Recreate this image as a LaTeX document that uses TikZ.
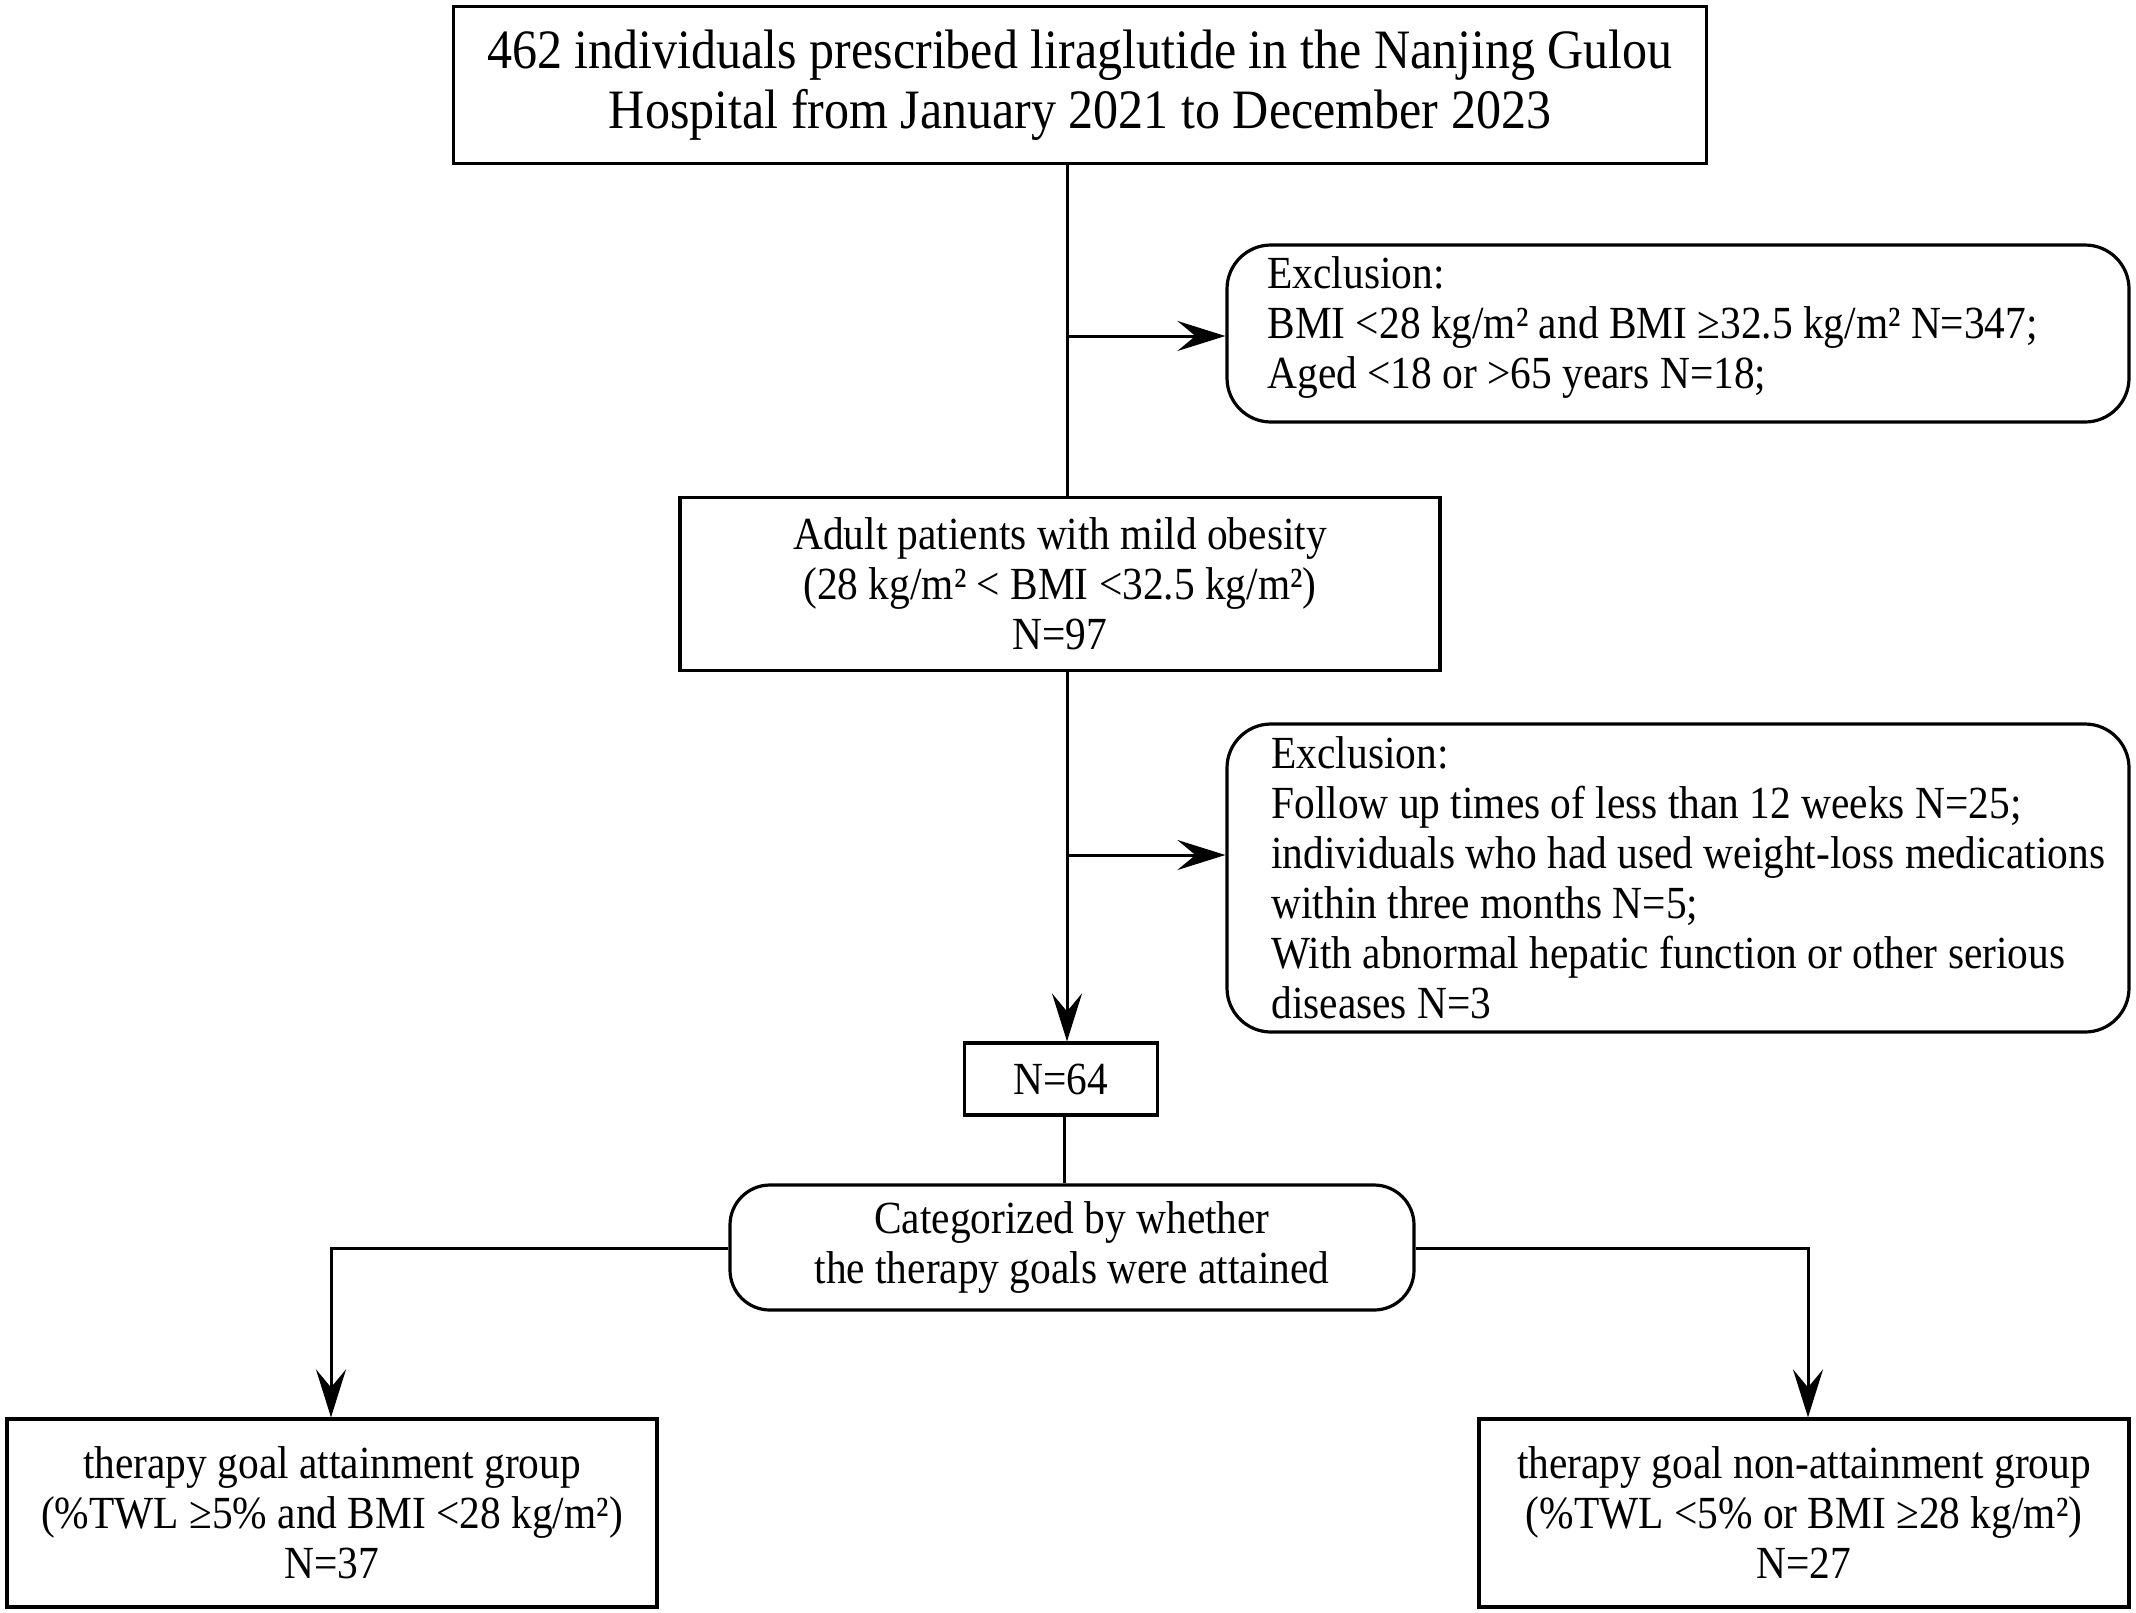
\documentclass[tikz,border=0pt]{standalone}
\usepackage{fontspec}
\setmainfont{Liberation Serif}[FakeStretch=0.9]
\usetikzlibrary{arrows.meta,calc}
\begin{document}
\begin{tikzpicture}[x=0.5pt,y=-0.5pt,
  box/.style={draw,line width=1.6pt,align=center,inner sep=0pt,font=\fontsize{23}{25}\selectfont},
  rbox/.style={box,rounded corners=22pt},
  txt/.style={align=left,inner sep=0pt,anchor=west,font=\fontsize{23}{25}\selectfont},
  conn/.style={line width=1.5pt},
  arr/.style={conn,-{Stealth[length=24pt,width=15pt,inset=9pt]}}]
\useasboundingbox (0,0) rectangle (2136,1612);
\node[box,minimum width=626.5pt,minimum height=78.5pt,font=\fontsize{27.8}{30}\selectfont] (top) at (1080,85)
  {462 individuals prescribed liraglutide in the Nanjing Gulou\\Hospital from January 2021 to December 2023};
\node[rbox,minimum width=451pt,minimum height=88.5pt] (exc1) at (1678,333.5) {};
\node[txt] (exc1t) at (1267,327) {Exclusion:\\BMI <28 kg/m² and BMI ≥32.5 kg/m² N=347;\\Aged <18 or >65 years N=18;};
\node[box,minimum width=380pt,minimum height=86.5pt] (mild) at (1060,584)
  {Adult patients with mild obesity\\(28 kg/m² < BMI <32.5 kg/m²)\\N=97};
\node[rbox,minimum width=451pt,minimum height=154pt] (exc2) at (1678,878) {};
\node[txt] (exc2t) at (1271,878) {Exclusion:\\Follow up times of less than 12 weeks N=25;\\individuals who had used weight-loss medications\\within three months N=5;\\With abnormal hepatic function or other serious\\diseases N=3};
\node[box,minimum width=96.5pt,minimum height=36pt] (n64) at (1061,1079) {N=64};
\node[rbox,rounded corners=20pt,minimum width=342pt,minimum height=62.5pt] (cat) at (1072,1247.5)
  {Categorized by whether\\the therapy goals were attained};
\node[box,minimum width=325pt,minimum height=94pt] (left) at (332,1513)
  {therapy goal attainment group\\(\%TWL ≥5\% and BMI <28 kg/m²)\\N=37};
\node[box,minimum width=325pt,minimum height=94pt] (right) at (1804,1513)
  {therapy goal non-attainment group\\(\%TWL <5\% or BMI ≥28 kg/m²)\\N=27};
\coordinate (vx) at (1067,0);
\coordinate (b1) at (1067,336);
\coordinate (b2) at (1067,855);
\coordinate (lc) at (331,1248);
\coordinate (rc) at (1808,1248);
\draw[conn] (top.south -| vx) -- (mild.north -| vx);
\draw[arr] (b1) -- (b1 -| exc1.west);
\draw[arr] (mild.south -| vx) -- (n64.north -| vx);
\draw[arr] (b2) -- (b2 -| exc2.west);
\draw[conn] ($(n64.south)+(3,0)$) -- ($(cat.north -| n64.south)+(3,0)$);
\draw[arr] (cat.west |- lc) -- (lc) -- (left.north -| lc);
\draw[arr] (cat.east |- rc) -- (rc) -- (right.north -| rc);
\end{tikzpicture}
\end{document}
